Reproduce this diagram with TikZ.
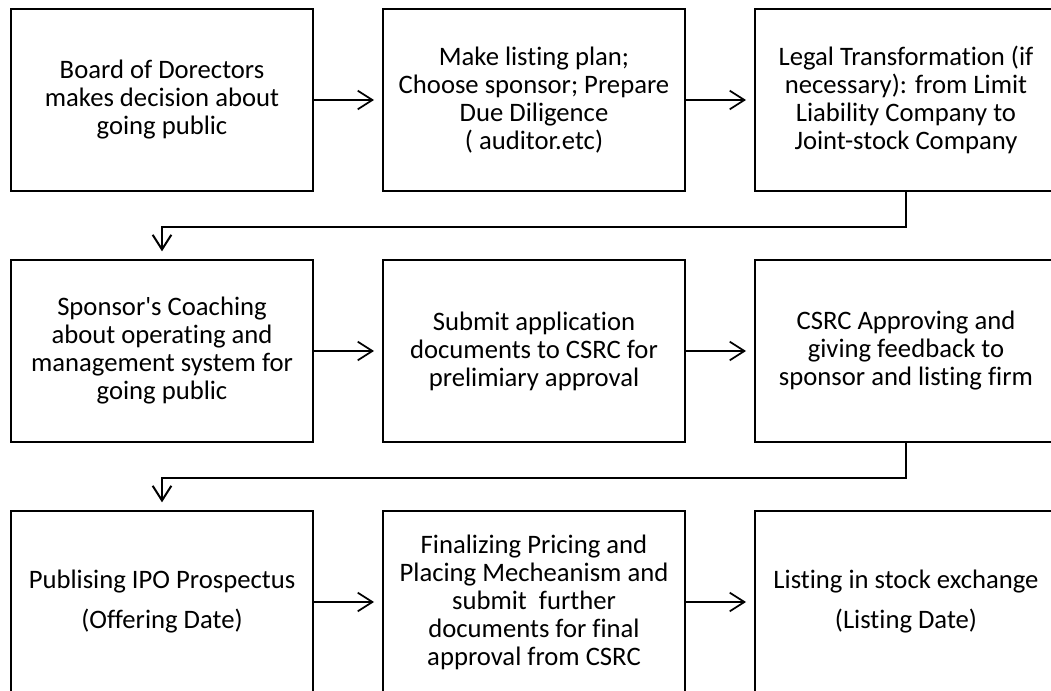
\documentclass[tikz,border=0pt]{standalone}
\usepackage{fontspec}
\setmainfont{Carlito}[Ligatures={NoCommon}]
\usetikzlibrary{arrows.meta}
\begin{document}
\begin{tikzpicture}[x=0.75pt,y=-0.75pt,
  box/.style={draw,line width=1.5pt,minimum width=226.5pt,minimum height=136pt,
    inner sep=0pt,align=center,font=\fontsize{20pt}{21pt}\selectfont},
  arr/.style={line width=1.3pt,-{Straight Barb[length=11pt,width=14pt]},shorten >=6pt},
  elbow/.style={arr,line width=1.5pt}]
\useasboundingbox (0,0) rectangle (1051,691);
\clip (0,0) rectangle (1051,691);
\node[box] (b1) at (162,100) {Board of Dorectors\\makes decision about\\going public};
\node[box] (b2) at (534,100) {Make listing plan;\\Choose sponsor; Prepare\\Due Diligence\\( auditor.etc)};
\node[box] (b3) at (906,100) {Legal Transformation (if\\necessary): from Limit\\Liability Company to\\Joint-stock Company};
\node[box] (b4) at (162,351) {Sponsor\textquotesingle s Coaching\\about operating and\\management system for\\going public};
\node[box] (b5) at (534,351) {Submit application\\documents to CSRC for\\prelimiary approval};
\node[box] (b6) at (906,351) {CSRC Approving and\\giving feedback to\\sponsor and listing firm};
\node[box] (b7) at (162,602) {Publising IPO Prospectus\\[9pt](Offering Date)};
\node[box] (b8) at (534,602) {Finalizing Pricing and\\Placing Mecheanism and\\submit~ further\\documents for final\\approval from CSRC};
\node[box] (b9) at (906,602) {Listing in stock exchange\\[9pt](Listing Date)};
\draw[arr] (b1.east) -- (b2.west);
\draw[arr] (b2.east) -- (b3.west);
\draw[arr] (b4.east) -- (b5.west);
\draw[arr] (b5.east) -- (b6.west);
\draw[arr] (b7.east) -- (b8.west);
\draw[arr] (b8.east) -- (b9.west);
\draw[elbow] (b3.south) -- ++(0,35) -| (b4.north);
\draw[elbow] (b6.south) -- ++(0,35) -| (b7.north);
\end{tikzpicture}
\end{document}
